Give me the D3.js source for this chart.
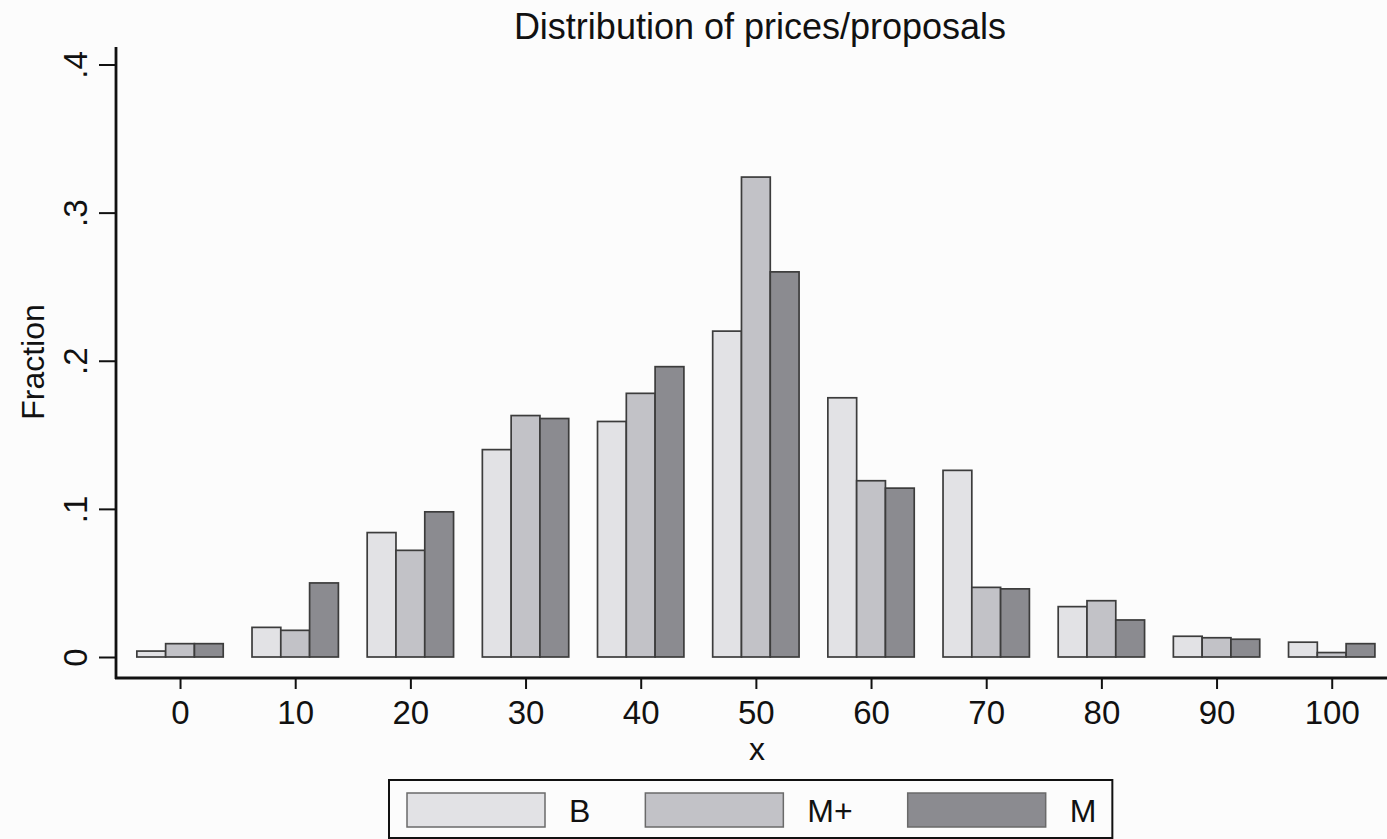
<!DOCTYPE html>
<html>
<head>
<meta charset="utf-8">
<script src="https://cdn.jsdelivr.net/npm/d3@7"></script>
<style>
  html, body { margin: 0; padding: 0; background: #fcfcfc; }
  svg { display: block; }
  text { font-family: "Liberation Sans", Arial, sans-serif; fill: #111; }
</style>
</head>
<body>
<svg id="chart" width="1387" height="839"></svg>
<script>
// ---- data ----
const categories = [0, 10, 20, 30, 40, 50, 60, 70, 80, 90, 100];
const seriesNames = ["B", "M+", "M"];
const valuesB     = [0.004, 0.020, 0.084, 0.140, 0.159, 0.220, 0.175, 0.126, 0.034, 0.014, 0.010];
const valuesMplus = [0.009, 0.018, 0.072, 0.163, 0.178, 0.324, 0.119, 0.047, 0.038, 0.013, 0.003];
const valuesM     = [0.009, 0.050, 0.098, 0.161, 0.196, 0.260, 0.114, 0.046, 0.025, 0.012, 0.009];
const yTicks = [0, 0.1, 0.2, 0.3, 0.4];
const xTicks = [0, 10, 20, 30, 40, 50, 60, 70, 80, 90, 100];
const titleText = "Distribution of prices/proposals";
const xTitle = "x";
const yTitle = "Fraction";

// ---- styling ----
const colors = ["#e2e2e5", "#c2c2c7", "#8b8b90"];
const barWidthUnits = 2.5;

const svg = d3.select("#chart");
const W = 1387, H = 839;

const x = d3.scaleLinear().domain([-5.56, 104.8]).range([116, 1387]);
const y = d3.scaleLinear().domain([0, 0.4]).range([657, 64.5]);

const axisLeftX = 116, axisBottomY = 678, axisTopY = 47;

// title
svg.append("text")
  .attr("x", 760).attr("y", 39)
  .attr("text-anchor", "middle")
  .style("font-size", "36px")
  .text(titleText);

// bars
const series = [valuesB, valuesMplus, valuesM];
const bw = x(barWidthUnits) - x(0);
series.forEach((vals, si) => {
  svg.append("g").selectAll("rect")
    .data(categories.map((c, i) => ({ c, v: vals[i] })))
    .join("rect")
    .attr("x", d => x(d.c + (si - 1) * barWidthUnits - barWidthUnits / 2))
    .attr("width", bw)
    .attr("y", d => y(d.v))
    .attr("height", d => y(0) - y(d.v))
    .attr("fill", colors[si])
    .attr("stroke", "#3c3c3c")
    .attr("stroke-width", 1.7);
});

// y axis
const yAxis = d3.axisLeft(y)
  .tickValues(yTicks)
  .tickSize(17)
  .tickFormat(d => d === 0 ? "0" : d3.format(".1f")(d).replace(/^0/, ""));
const gy = svg.append("g").attr("transform", `translate(${axisLeftX},0)`).call(yAxis);
gy.select(".domain").remove();
gy.selectAll(".tick line").attr("stroke", "#111").attr("stroke-width", 2);
gy.selectAll(".tick text")
  .attr("x", 0).attr("dy", null)
  .attr("transform", "translate(-29,0) rotate(-90)")
  .attr("text-anchor", "middle")
  .style("font-size", "33px")
  .style("font-family", "'Liberation Sans', Arial, sans-serif")
  .attr("fill", "#111");
svg.append("line")
  .attr("x1", axisLeftX).attr("x2", axisLeftX)
  .attr("y1", axisTopY).attr("y2", axisBottomY + 1)
  .attr("stroke", "#111").attr("stroke-width", 2.8);

// x axis
const xAxis = d3.axisBottom(x)
  .tickValues(xTicks)
  .tickSize(11)
  .tickFormat(d3.format("d"));
const gx = svg.append("g").attr("transform", `translate(0,${axisBottomY})`).call(xAxis);
gx.select(".domain").remove();
gx.selectAll(".tick line").attr("stroke", "#111").attr("stroke-width", 2);
gx.selectAll(".tick text")
  .attr("y", 46).attr("dy", null)
  .style("font-size", "33px")
  .style("font-family", "'Liberation Sans', Arial, sans-serif")
  .attr("fill", "#111");
svg.append("line")
  .attr("x1", axisLeftX - 1).attr("x2", W)
  .attr("y1", axisBottomY).attr("y2", axisBottomY)
  .attr("stroke", "#111").attr("stroke-width", 2.8);

// axis titles
svg.append("text")
  .attr("transform", `translate(44,362) rotate(-90)`)
  .attr("text-anchor", "middle")
  .style("font-size", "32px")
  .text(yTitle);
svg.append("text")
  .attr("x", 757).attr("y", 760)
  .attr("text-anchor", "middle")
  .style("font-size", "32px")
  .text(xTitle);

// legend (sequential layout: swatch, gap, label, gap, ...)
const lg = svg.append("g");
const box = lg.append("rect")
  .attr("x", 389).attr("y", 780).attr("height", 58)
  .attr("fill", "none").attr("stroke", "#111").attr("stroke-width", 2);
let cursor = 407;
seriesNames.forEach((name, i) => {
  lg.append("rect")
    .attr("x", cursor).attr("y", 793).attr("width", 138).attr("height", 34)
    .attr("fill", colors[i]).attr("stroke", "#6a6a6a").attr("stroke-width", 1.5);
  const t = lg.append("text")
    .attr("x", cursor + 138 + 24).attr("y", 822)
    .style("font-size", "32px")
    .text(name);
  const tw = t.node().getComputedTextLength();
  cursor = cursor + 138 + 24 + tw + (i < seriesNames.length - 1 ? 55 : 0);
});
box.attr("width", cursor + 16 - 389);
</script>
</body>
</html>
